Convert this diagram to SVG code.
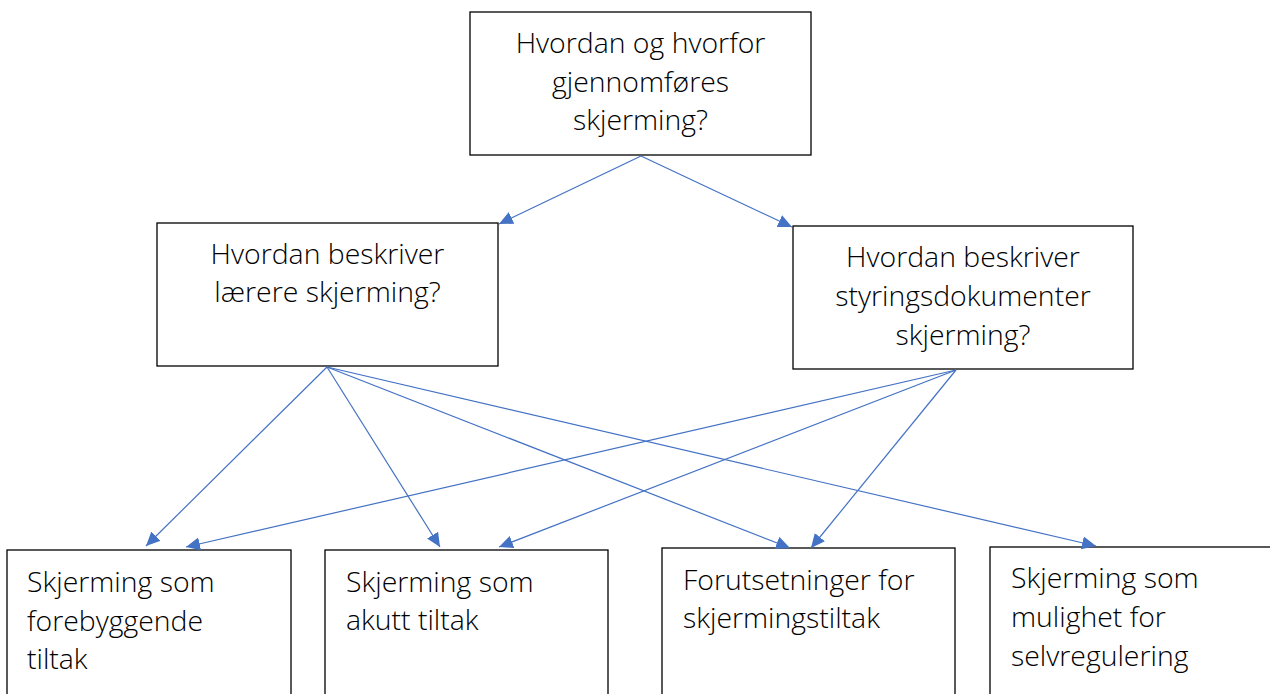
<svg xmlns="http://www.w3.org/2000/svg" width="1270" height="694" viewBox="0 0 1270 694">
<style>
.box{fill:#fff;stroke:#000;stroke-width:1.3}
.t{font-family:"Open Sans","Liberation Sans",sans-serif;font-weight:300;font-size:28.4px;fill:#000}
.c{text-anchor:middle}
.e{stroke:#4472C4;stroke-width:1.2;fill:none;marker-end:url(#ah)}
</style>
<defs>
<marker id="ah" markerUnits="userSpaceOnUse" markerWidth="16" markerHeight="14" refX="14" refY="6.5" orient="auto">
<path d="M0,0 L14,6.5 L0,13 z" fill="#4472C4"/>
</marker>
</defs>
<rect width="1270" height="694" fill="#fff"/>
<g id="n-top">
<rect class="box" x="470" y="12" width="341" height="143"/>
<text class="t c" x="640.5" y="53">Hvordan og hvorfor</text>
<text class="t c" x="640.5" y="92">gjennomføres</text>
<text class="t c" x="640.5" y="130">skjerming?</text>
</g>
<g id="n-laerere">
<rect class="box" x="157" y="223" width="341" height="143"/>
<text class="t c" x="327.5" y="264">Hvordan beskriver</text>
<text class="t c" x="327.5" y="302">lærere skjerming?</text>
</g>
<g id="n-styring">
<rect class="box" x="793" y="226" width="340" height="143"/>
<text class="t c" x="963" y="267">Hvordan beskriver</text>
<text class="t c" x="963" y="306">styringsdokumenter</text>
<text class="t c" x="963" y="345">skjerming?</text>
</g>
<g id="n-forebyggende">
<rect class="box" x="7" y="550" width="284" height="200"/>
<text class="t" x="27" y="592">Skjerming som</text>
<text class="t" x="27" y="631">forebyggende</text>
<text class="t" x="27" y="669">tiltak</text>
</g>
<g id="n-akutt">
<rect class="box" x="325" y="550" width="283" height="200"/>
<text class="t" x="346" y="592">Skjerming som</text>
<text class="t" x="346" y="630">akutt tiltak</text>
</g>
<g id="n-forutsetninger">
<rect class="box" x="662" y="548" width="293" height="200"/>
<text class="t" x="683" y="590">Forutsetninger for</text>
<text class="t" x="683" y="628">skjermingstiltak</text>
</g>
<g id="n-selvregulering">
<rect class="box" x="990" y="547" width="300" height="200"/>
<text class="t" x="1011" y="588">Skjerming som</text>
<text class="t" x="1011" y="627">mulighet for</text>
<text class="t" x="1011" y="666">selvregulering</text>
</g>
<g id="connectors">
<line class="e" x1="641" y1="156" x2="499" y2="224"/>
<line class="e" x1="641" y1="156" x2="792" y2="227"/>
<line class="e" x1="327" y1="367" x2="146" y2="546"/>
<line class="e" x1="327" y1="367" x2="440" y2="547"/>
<line class="e" x1="327" y1="367" x2="790" y2="548"/>
<line class="e" x1="327" y1="367" x2="1096" y2="546"/>
<line class="e" x1="956" y1="370" x2="186" y2="547"/>
<line class="e" x1="956" y1="370" x2="499" y2="547"/>
<line class="e" x1="956" y1="370" x2="811" y2="548"/>
</g>
</svg>
